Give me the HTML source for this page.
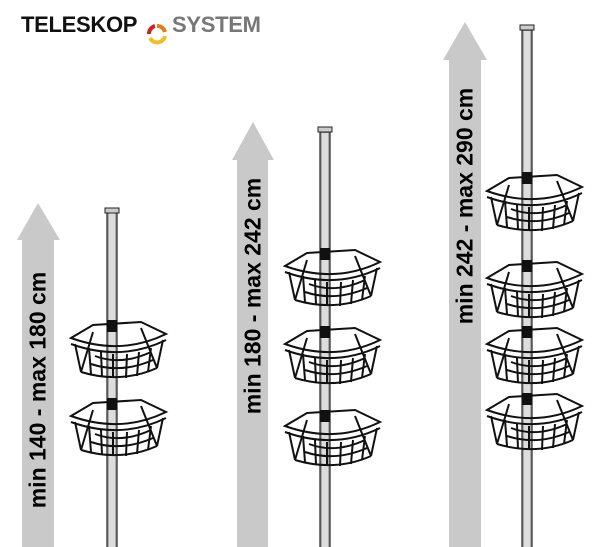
<!DOCTYPE html>
<html><head><style>
html,body{margin:0;background:#fff;width:600px;height:547px;overflow:hidden}
body{position:relative;font-family:"Liberation Sans",sans-serif}
.t{position:absolute;font-weight:bold;font-size:22px;top:12px;letter-spacing:-0.3px}
.lbl{position:absolute;font-weight:bold;font-size:23px;white-space:nowrap;transform:translate(-50%,-50%) rotate(-90deg);color:#000}
</style></head><body>
<div class="t" style="left:21px;color:#111">TELESKOP</div>
<div class="t" style="left:172px;color:#777">SYSTEM</div>
<svg width="600" height="547" style="position:absolute;left:0;top:0;overflow:hidden">
<defs>
<g id="b" fill="none" stroke="#111" stroke-width="2">
<path d="M0,16 L22,3 L70,0 L95,12 Q50,34 0,16 Z"/>
<path d="M0,22 Q50,40 95,18"/>
<path d="M10,50 Q50,62 86,46"/>
<path d="M10,50 L22,10 M86,46 L70,6 M4,22 L10,50 M92,18 L86,46"/>
<path d="M18,26 L20,52 M30,30 L31,55 M42,32 L42,56 M56,32 L55,56 M68,30 L66,54 M80,26 L77,50"/>
<path d="M20,42 Q50,52 82,38 M24,34 Q50,44 80,30"/>
</g>
</defs>
<g fill="#c9c9c9">
<polygon points="38,203 60,240 54,240 54,547 22,547 22,240 17,240"/>
<polygon points="253,122 274,160 268,160 268,547 237,547 237,160 232,160"/>
<polygon points="465,22 487,60 481,60 481,547 449,547 449,60 443,60"/>
</g>
<path d="M157,26 A8,8 0 0 1 165,32" stroke="#e07f1a" stroke-width="4" fill="none"/>
<path d="M165,36 A8,8 0 0 1 150,38" stroke="#f0c020" stroke-width="4" fill="none"/>
<path d="M149,34 A8,8 0 0 1 155,26" stroke="#d02020" stroke-width="4" fill="none"/>
<g stroke="#222" stroke-width="1.2" fill="#aaa">
<rect x="107" y="212" width="10" height="340"/>
<rect x="320" y="132" width="10" height="420"/>
<rect x="522" y="30" width="10" height="522"/>
</g>
<g fill="#ddd">
<rect x="109" y="213" width="6" height="334"/>
<rect x="322" y="133" width="6" height="414"/>
<rect x="524" y="31" width="6" height="516"/>
</g>
<rect x="105" y="208" width="14" height="5" fill="#ccc" stroke="#222"/>
<rect x="318" y="127" width="14" height="5" fill="#ccc" stroke="#222"/>
<rect x="520" y="25" width="14" height="5" fill="#ccc" stroke="#222"/>
<g fill="#111">
<rect x="107" y="320" width="10" height="12"/><rect x="107" y="398" width="10" height="12"/>
<rect x="320" y="248" width="10" height="12"/><rect x="320" y="326" width="10" height="12"/><rect x="320" y="410" width="10" height="12"/>
<rect x="522" y="172" width="10" height="12"/><rect x="522" y="260" width="10" height="12"/><rect x="522" y="326" width="10" height="12"/><rect x="522" y="393" width="10" height="12"/>
</g>
<use href="#b" x="71" y="322"/><use href="#b" x="71" y="400"/>
<use href="#b" x="285" y="250"/><use href="#b" x="285" y="328"/><use href="#b" x="285" y="410"/>
<use href="#b" x="487" y="175"/><use href="#b" x="487" y="262"/><use href="#b" x="487" y="328"/><use href="#b" x="487" y="394"/>
</svg>
<div class="lbl" style="left:38px;top:390px">min 140 - max 180 cm</div>
<div class="lbl" style="left:253px;top:296px">min 180 - max 242 cm</div>
<div class="lbl" style="left:465px;top:206px">min 242 - max 290 cm</div>
</body></html>
